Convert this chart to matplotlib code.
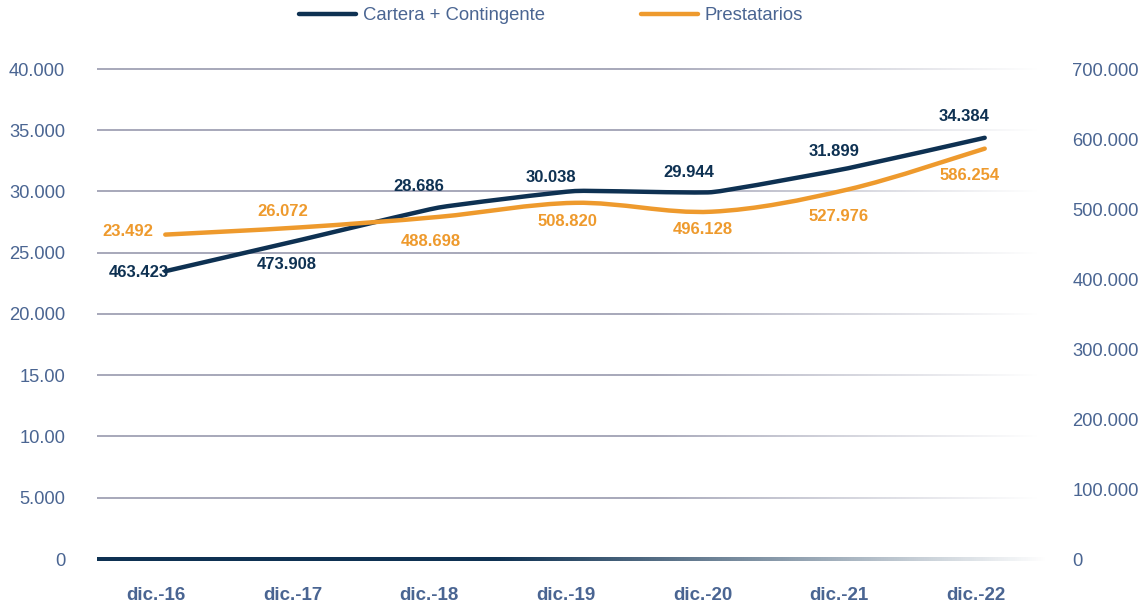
import matplotlib
matplotlib.use("Agg")
import matplotlib.pyplot as plt
import matplotlib.transforms as mtransforms
from matplotlib.path import Path
from matplotlib.patches import PathPatch
from matplotlib.lines import Line2D
import numpy as np

plt.rcParams['font.family'] = ['Liberation Sans', 'DejaVu Sans']

# datos
categorias = ["dic.-16", "dic.-17", "dic.-18", "dic.-19", "dic.-20", "dic.-21", "dic.-22"]
cartera = [23.492, 26.072, 28.686, 30.038, 29.944, 31.899, 34.384]          # eje izq.
prestatarios = [463.423, 473.908, 488.698, 508.820, 496.128, 527.976, 586.254]  # eje der.

# etiquetas tal como aparecen (mezcladas en el original)
etq_oscuras = ["463.423", "473.908", "28.686", "30.038", "29.944", "31.899", "34.384"]
etq_naranjas = ["23.492", "26.072", "488.698", "508.820", "496.128", "527.976", "586.254"]

ticks_izq = [0, 5, 10, 15, 20, 25, 30, 35, 40]
tick_lbl_izq = ["0", "5.000", "10.00", "15.00", "20.000", "25.000", "30.000", "35.000", "40.000"]
ticks_der = [0, 100, 200, 300, 400, 500, 600, 700]
tick_lbl_der = ["0", "100.000", "200.000", "300.000", "400.000", "500.000", "600.000", "700.000"]

AZUL = "#0e3152"
NARANJA = "#ee9a2d"
TEXTO = "#4a6592"
GRID = "#a9aabb"


def curva_suave(xs, ys, t=1.0):
    # catmull-rom -> bezier cubica
    pts = np.column_stack([xs, ys]).astype(float)
    n = len(pts)
    verts = [pts[0]]
    codes = [Path.MOVETO]
    for i in range(n - 1):
        p0 = pts[i - 1] if i > 0 else pts[i]
        p1 = pts[i]
        p2 = pts[i + 1]
        p3 = pts[i + 2] if i + 2 < n else pts[i + 1]
        c1 = p1 + (p2 - p0) / 6 * t
        c2 = p2 - (p3 - p1) / 6 * t
        verts += [c1, c2, p2]
        codes += [Path.CURVE4] * 3
    return Path(verts, codes)


def linea_degradada(ax, y, color, grosor, x0, x1, x_fin=0.99, n=400):
    # linea horizontal que se desvanece hacia la derecha (imagen 1 x n)
    xs = np.linspace(0, x_fin, n)
    alfa = 1 - np.clip((xs - x0) / (x1 - x0), 0, 1)
    img = np.zeros((1, n, 4))
    img[0, :, :3] = matplotlib.colors.to_rgb(color)
    img[0, :, 3] = alfa
    h = grosor / 2
    ax.imshow(img, extent=[0, x_fin, y - h, y + h], aspect="auto",
              transform=ax.get_yaxis_transform(), interpolation="bilinear",
              clip_on=False, zorder=1)


fig = plt.figure(figsize=(11.47, 6.05), dpi=100)
ax = fig.add_axes([97 / 1147, 46 / 605, 956 / 1147, 490 / 605])
ax2 = ax.twinx()

x = np.arange(len(categorias))

# rejilla con desvanecimiento a la derecha (grosor en unidades del eje izq.)
for yv in ticks_izq[1:]:
    linea_degradada(ax, yv, GRID, 0.16, 0.58, 0.985)
linea_degradada(ax, 0, AZUL, 0.30, 0.42, 0.995, x_fin=1.0)

ax.set_xlim(-0.5, len(categorias) - 0.5)
ax.set_ylim(0, 40)
ax2.set_ylim(0, 700)

for a in (ax, ax2):
    for s in a.spines.values():
        s.set_visible(False)
    a.tick_params(length=0)

ax.set_yticks(ticks_izq)
ax.set_yticklabels(tick_lbl_izq, fontsize=13.2, color=TEXTO)
ax.tick_params(axis="y", pad=23)
ax2.set_yticks(ticks_der)
ax2.set_yticklabels(tick_lbl_der, fontsize=13.2, color=TEXTO)
ax2.tick_params(axis="y", pad=14)

ax.set_xticks(x)
ax.set_xticklabels(categorias, fontsize=13.5, fontweight="bold", color=TEXTO)
ax.tick_params(axis="x", pad=20)
desp = mtransforms.ScaledTranslation(-9 / 100, 0, fig.dpi_scale_trans)
for lbl in ax.get_xticklabels():
    lbl.set_transform(lbl.get_transform() + desp)

# series
p1 = PathPatch(curva_suave(x, cartera, t=0.35), facecolor="none", edgecolor=AZUL,
               lw=3.2, capstyle="round", joinstyle="round", zorder=4)
ax.add_patch(p1)
p2 = PathPatch(curva_suave(x, prestatarios, t=1.0), facecolor="none", edgecolor=NARANJA,
               lw=3.2, capstyle="round", joinstyle="round", zorder=3)
ax2.add_patch(p2)
ax2.set_zorder(ax.get_zorder() + 1)
ax2.patch.set_visible(False)

# desplazamientos de etiquetas en pixeles (dx, dy hacia arriba)
off_osc = [(-26, -1), (-15, -25), (-20, 21), (-24, 14), (-23, 20), (-14, 17), (-21, 21)]
off_nar = [(-37, 3), (-19, 16), (-8, -25), (-8, -19), (-9, -18), (-10, -27), (-15, -27)]
for i in range(len(x)):
    ax.annotate(etq_oscuras[i], (x[i], cartera[i]), xytext=(off_osc[i][0] * 0.72, off_osc[i][1] * 0.72),
                textcoords="offset points", ha="center", va="center",
                fontsize=12, fontweight="bold", color=AZUL, zorder=6)
    ax2.annotate(etq_naranjas[i], (x[i], prestatarios[i]), xytext=(off_nar[i][0] * 0.72, off_nar[i][1] * 0.72),
                 textcoords="offset points", ha="center", va="center",
                 fontsize=12, fontweight="bold", color=NARANJA, zorder=6)

# leyenda
handles = [Line2D([], [], color=AZUL, lw=3.2, solid_capstyle="round"),
           Line2D([], [], color=NARANJA, lw=3.2, solid_capstyle="round")]
leg = fig.legend(handles, ["Cartera + Contingente", "Prestatarios"], loc="center",
                 bbox_to_anchor=(551 / 1147, 1 - 16 / 605), ncol=2, frameon=False,
                 fontsize=13.3, handlelength=3.1, handletextpad=0.35, columnspacing=5.2,
                 labelcolor=TEXTO)

fig.savefig("out.png", dpi=100)
